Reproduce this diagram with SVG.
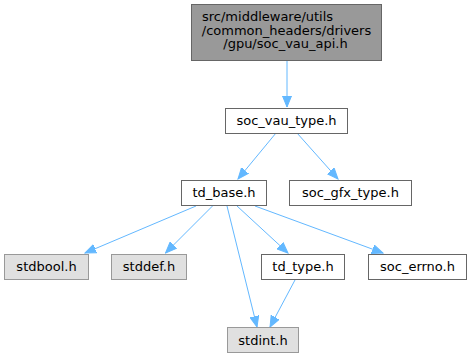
<svg xmlns="http://www.w3.org/2000/svg" width="471" height="359" viewBox="0 0 471 359">
<style>
.n rect{stroke-width:1}
.w rect{fill:#fff;stroke:#666}
.g rect{fill:#e0e0e0;stroke:#999}
.t rect{fill:#999;stroke:#666}
text{font-family:"DejaVu Sans",sans-serif;font-size:13px;fill:#000;text-anchor:middle}
#edges path{fill:none;stroke:#63b8ff;stroke-width:1;marker-end:url(#a)}
</style>
<defs>
<marker id="a" markerUnits="userSpaceOnUse" markerWidth="12" markerHeight="10" viewBox="0 0 12 10" refX="11" refY="5" orient="auto">
<polygon points="0,0.5 11,5 0,9.5" fill="#63b8ff" stroke="#63b8ff"/>
</marker>
</defs>
<rect width="471" height="359" fill="#fff"/>
<g id="edges">
<path d="M287,60 L287,107"/>
<path d="M276,133 L238,179"/>
<path d="M297,133 L338,179"/>
<path d="M196,206 L85,253"/>
<path d="M212.5,206 L165.5,253"/>
<path d="M227,206 L257,327"/>
<path d="M237,206 L288,253"/>
<path d="M255,206 L383,253"/>
<path d="M295,280 L270,327"/>
</g>
<g id="n_top" class="n t"><rect x="191.5" y="4.5" width="190" height="56"/>
<text x="202" y="21" style="text-anchor:start">src/middleware/utils</text>
<text x="286.5" y="34.5">/common_headers/drivers</text>
<text x="285.5" y="48">/gpu/soc_vau_api.h</text></g>
<g id="n_soc_vau_type" class="n w"><rect x="225.5" y="108.5" width="122" height="25"/><text x="286.5" y="125">soc_vau_type.h</text></g>
<g id="n_td_base" class="n w"><rect x="181.5" y="180.5" width="85" height="25"/><text x="224" y="197">td_base.h</text></g>
<g id="n_soc_gfx_type" class="n w"><rect x="289.5" y="180.5" width="122" height="25"/><text x="350.5" y="197">soc_gfx_type.h</text></g>
<g id="n_stdbool" class="n g"><rect x="4.5" y="254.5" width="84" height="25"/><text x="46.5" y="271">stdbool.h</text></g>
<g id="n_stddef" class="n g"><rect x="111.5" y="254.5" width="75" height="25"/><text x="149" y="271">stddef.h</text></g>
<g id="n_td_type" class="n w"><rect x="261.5" y="254.5" width="83" height="25"/><text x="303" y="271">td_type.h</text></g>
<g id="n_soc_errno" class="n w"><rect x="368.5" y="254.5" width="98" height="25"/><text x="417.5" y="271">soc_errno.h</text></g>
<g id="n_stdint" class="n g"><rect x="227.5" y="327.5" width="71" height="25"/><text x="263" y="345">stdint.h</text></g>
</svg>
